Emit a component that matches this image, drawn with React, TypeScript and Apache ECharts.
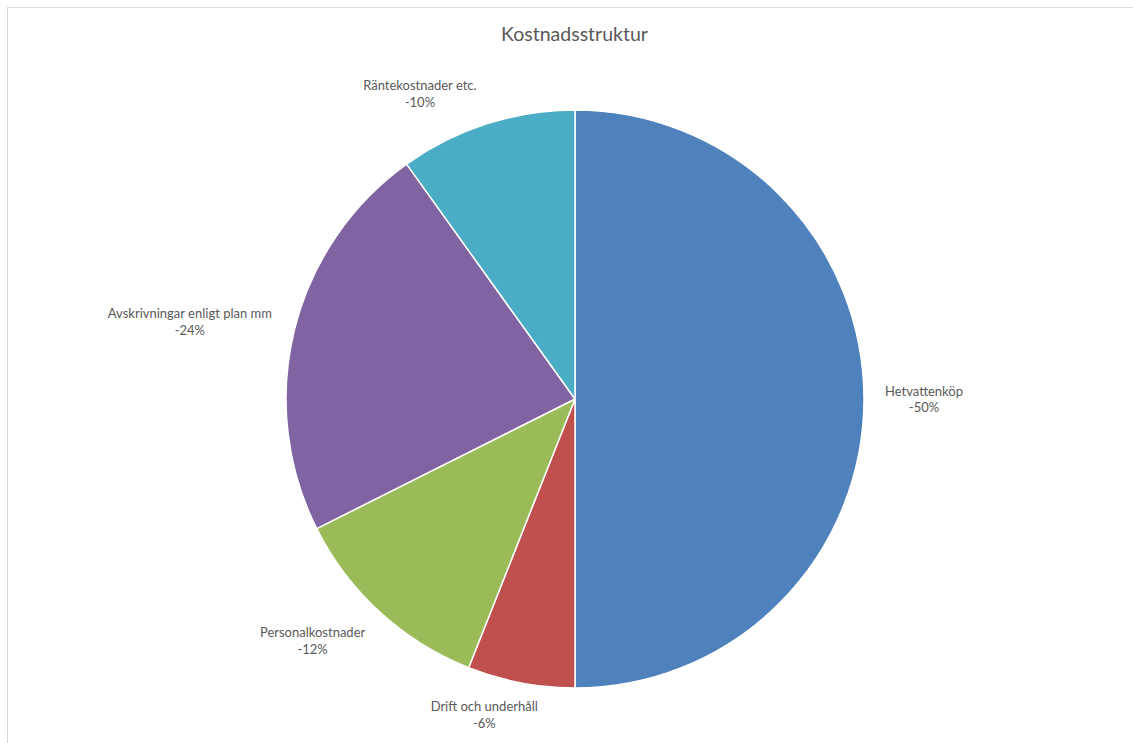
import React, { useEffect, useRef } from "react";
import * as echarts from "echarts";

const TITLE = "Kostnadsstruktur";
const categories = [
  "Hetvattenköp",
  "Drift och underhåll",
  "Personalkostnader",
  "Avskrivningar enligt plan mm",
  "Räntekostnader etc.",
];
// share of total cost (%)
const shares = [50.0, 6.0, 11.6, 22.5, 9.9];
// percentages as printed on the data labels
const percentLabels = ["-50%", "-6%", "-12%", "-24%", "-10%"];
const colors = ["#4F81BD", "#C0504D", "#9BBB59", "#8064A2", "#4BACC6"];

// label placement (styling, not data)
const labelGap = [21, 32, 32, 23, 32];
const labelNudgeX = [0, 23, 7, 0, 0];
const labelNudgeY = [0, 0, 5, -3, 0];

const FONT = "Lato, 'Noto Sans', sans-serif";

export default function App() {
  const ref = useRef<HTMLDivElement>(null);
  useEffect(() => {
    if (!ref.current) return;
    const chart = echarts.init(ref.current, undefined, { renderer: "svg" });
    chart.setOption({
      animation: false,
      backgroundColor: "#ffffff",
      title: {
        text: TITLE,
        left: "center",
        top: 15,
        padding: 0,
        textStyle: {
          fontFamily: FONT,
          fontSize: 19.5,
          fontWeight: "normal",
          color: "#595959",
        },
      },
      series: [
        {
          type: "pie",
          center: [567, 391],
          radius: 289,
          startAngle: 90,
          clockwise: true,
          avoidLabelOverlap: false,
          itemStyle: { borderColor: "#ffffff", borderWidth: 1.5 },
          emphasis: { disabled: true },
          label: {
            show: true,
            position: "outside",
            alignTo: "none",
            distanceToLabelLine: 0,
            fontFamily: FONT,
            fontSize: 13,
            lineHeight: 16.5,
            color: "#595959",
            formatter: (p: any) => `${p.name}\n${percentLabels[p.dataIndex]}`,
          },
          labelLine: { show: false, length: 25, length2: 0 },
          labelLayout: (p: any) => {
            const r = p.labelRect;
            return {
              x: r.x + r.width / 2 + labelNudgeX[p.dataIndex],
              y: r.y + r.height / 2 + labelNudgeY[p.dataIndex],
              align: "center",
              verticalAlign: "middle",
            };
          },
          data: categories.map((name, i) => ({
            name,
            value: shares[i],
            itemStyle: { color: colors[i] },
            labelLine: { show: false, length: labelGap[i], length2: 0 },
          })),
        },
      ],
    });
    return () => chart.dispose();
  }, []);

  return (
    <div
      style={{
        position: "fixed",
        left: 0,
        top: 0,
        width: 1133,
        height: 743,
        overflow: "hidden",
        background: "#ffffff",
      }}
    >
      <div
        style={{
          position: "absolute",
          left: 7,
          top: 7,
          width: 1140,
          height: 760,
          border: "1px solid #d9d9d9",
          boxSizing: "border-box",
        }}
      />
      <div
        ref={ref}
        style={{ position: "absolute", left: 8, top: 8, width: 1133, height: 735 }}
      />
    </div>
  );
}
